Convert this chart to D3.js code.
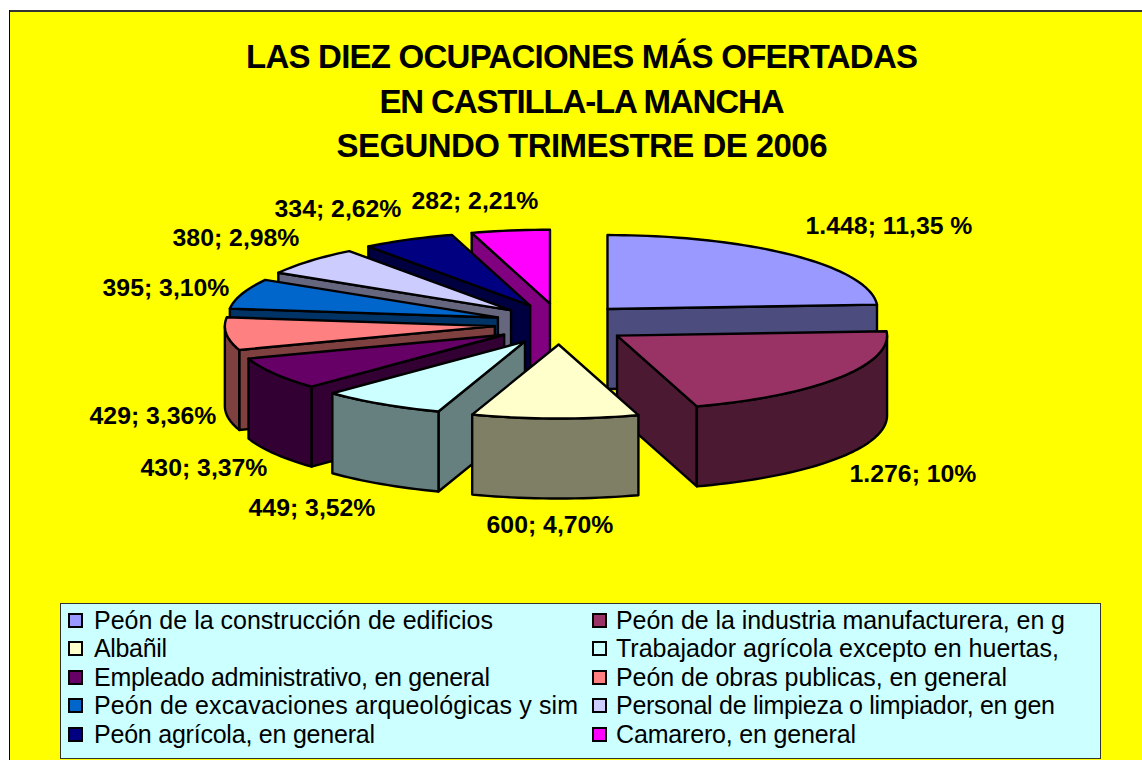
<!DOCTYPE html>
<html><head><meta charset="utf-8">
<style>html,body{margin:0;padding:0;background:#fff;overflow:hidden}svg{display:block}text{font-family:"Liberation Sans",Arial,sans-serif;fill:#000}</style>
<script src="https://cdnjs.cloudflare.com/ajax/libs/d3/7.8.5/d3.min.js"></script>
</head><body><svg id="c" width="1142" height="760"></svg>
<script>
const categories=["Peón de la construcción de edificios","Peón de la industria manufacturera, en g","Albañil","Trabajador agrícola excepto en huertas,","Empleado administrativo, en general","Peón de obras publicas, en general","Peón de excavaciones arqueológicas y sim","Personal de limpieza o limpiador, en gen","Peón agrícola, en general","Camarero, en general"];
const values=[1448,1276,600,449,430,429,395,380,334,282];
const dataLabels=["1.448; 11,35 %","1.276; 10%","600; 4,70%","449; 3,52%","430; 3,37%","429; 3,36%","395; 3,10%","380; 2,98%","334; 2,62%","282; 2,21%"];
const topColors=["#9999FF","#993366","#FFFFCC","#CCFFFF","#660066","#FF8080","#0066CC","#CCCCFF","#000080","#FF00FF"];
const sideColors=["#4C4C7F","#4C1933","#7F7F66","#667F7F","#330033","#7F4040","#003366","#66667F","#000040","#800080"];
const titleLines=["LAS DIEZ OCUPACIONES MÁS OFERTADAS","EN CASTILLA-LA MANCHA","SEGUNDO TRIMESTRE DE 2006"];
const titleWidths=[672,405,491];
const legendWidths=[399,449,73,443,396,391,484,439,281,240];
const drawOrder=[9,8,7,6,5,4,3,0,1,2];

const svg=d3.select("#c");
// frame
svg.append("rect").attr("x",9).attr("y",12).attr("width",1133).attr("height",748).attr("fill","#FFFF00");
svg.append("rect").attr("x",9).attr("y",10).attr("width",1133).attr("height",2).attr("fill","#333");
svg.append("rect").attr("x",9).attr("y",10).attr("width",1).attr("height",750).attr("fill","#000");

// title
svg.append("g").selectAll("text").data(titleLines).join("text")
 .attr("x",582).attr("y",(d,i)=>68+i*44.5).attr("text-anchor","middle")
 .attr("textLength",(d,i)=>titleWidths[i]).attr("lengthAdjust","spacing")
 .attr("font-size",33).attr("font-weight","bold").text(d=>d);

// pie
const cx=559.5,cy=324,rx=270,ry=74,exRight=70,exLeft=65,ey=20.5,depth=80;
const px=d3.scaleLinear().domain([-1,1]).range([-rx,rx]);
const py=d3.scaleLinear().domain([-1,1]).range([ry,-ry]);
const pie=d3.pie().sort(null).value(d=>d)(values);
const line=d3.line();
const slices=pie.map((p,i)=>{
  const mid=(p.startAngle+p.endAngle)/2,sn=Math.sin(mid);
  return {i,a0:p.startAngle,a1:p.endAngle,ax:cx+(sn<0?exLeft:exRight)*sn,ay:cy-ey*Math.cos(mid)};
});
function pt(s,a,dz=0){return [s.ax+px(Math.sin(a)),s.ay+py(Math.cos(a))+dz];}
function arcPts(s,a0,a1,dz=0){const n=Math.max(2,Math.ceil((a1-a0)/0.03));return d3.range(n+1).map(k=>pt(s,a0+(a1-a0)*k/n,dz));}
const g=svg.append("g").attr("stroke","#000").attr("stroke-width",2.4).attr("stroke-linejoin","round");
drawOrder.forEach(i=>{
  const s=slices[i],side=sideColors[i],top=topColors[i],apex=[s.ax,s.ay],apexB=[s.ax,s.ay+depth];
  if(s.a0>=Math.PI-1e-6){const a=pt(s,s.a0),b=pt(s,s.a0,depth);
    g.append("path").attr("d",line([apex,a,b,apexB])+"Z").attr("fill",side);}
  if(s.a1<=Math.PI+1e-6){const a=pt(s,s.a1),b=pt(s,s.a1,depth);
    g.append("path").attr("d",line([apex,a,b,apexB])+"Z").attr("fill",side);}
  const l=Math.max(s.a0,Math.PI/2),h=Math.min(s.a1,3*Math.PI/2);
  if(h>l){const tp=arcPts(s,l,h),bt=arcPts(s,l,h,depth).reverse();
    g.append("path").attr("d",line(tp.concat(bt))+"Z").attr("fill",side);}
  g.append("path").attr("d",line([apex].concat(arcPts(s,s.a0,s.a1)))+"Z").attr("fill",top);
});

// data labels
const labelPos=[[889,234],[913,482],[550,533],[312,516],[204,476],[153,424],[166,296],[236,246],[338,217],[475,209]];
svg.append("g").selectAll("text").data(dataLabels).join("text")
 .attr("x",(d,i)=>labelPos[i][0]).attr("y",(d,i)=>labelPos[i][1]).attr("text-anchor","middle")
 .attr("font-size",24.8).attr("font-weight","bold").text(d=>d);

// legend
svg.append("rect").attr("x",60.5).attr("y",603.5).attr("width",1040).attr("height",155).attr("fill","#CCFFFF").attr("stroke","#333").attr("stroke-width",1);
const colX=[68,592],textX=[26,24],rowY=[620,648,677,705,734];
const lg=svg.append("g").selectAll("g").data(categories).join("g")
 .attr("transform",(d,i)=>`translate(${colX[i%2]},${rowY[Math.floor(i/2)]})`);
lg.append("rect").attr("x",1).attr("y",-6).attr("width",13).attr("height",13)
 .attr("fill",(d,i)=>topColors[i]).attr("stroke","#000").attr("stroke-width",2);
lg.append("text").attr("x",(d,i)=>textX[i%2]).attr("y",9).attr("font-size",25)
 .attr("textLength",(d,i)=>legendWidths[i]).attr("lengthAdjust","spacing").text(d=>d);
</script></body></html>
